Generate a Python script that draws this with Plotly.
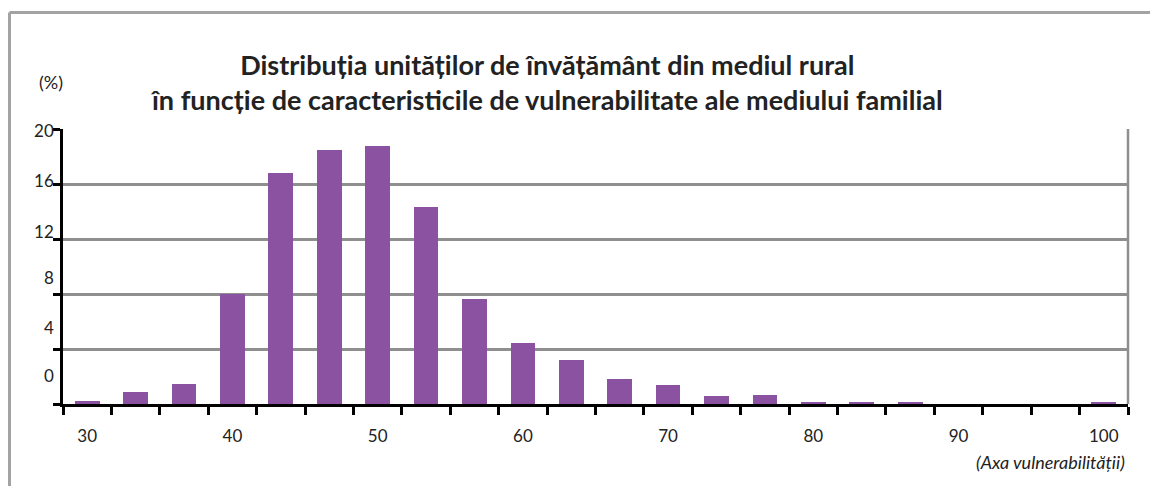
import plotly.graph_objects as go

# ---- data ----
categories = [30, 33.33, 36.67, 40, 43.33, 46.67, 50, 53.33, 56.67, 60, 63.33,
              66.67, 70, 73.33, 76.67, 80, 83.33, 86.67, 90, 93.33, 96.67, 100]
values = [0.2, 0.9, 1.45, 8.0, 16.8, 18.5, 18.75, 14.3, 7.65, 4.45, 3.2,
          1.8, 1.4, 0.55, 0.65, 0.15, 0.15, 0.15, 0.0, 0.0, 0.0, 0.15]
x_tick_vals = [30, 40, 50, 60, 70, 80, 90, 100]
x_tick_text = ["30", "40", "50", "60", "70", "80", "90", "100"]
y_grid_vals = [0, 4, 8, 12, 16, 20]
y_tick_text = ["20", "16", "12", "8", "4", "0"]

title_line1 = "Distribuția unităților de învățământ din mediul rural"
title_line2 = "în funcție de caracteristicile de vulnerabilitate ale mediului familial"
y_unit = "(%)"
x_title = "(Axa vulnerabilității)"

# ---- layout geometry ----
W, H = 1150, 486
ML, MR, MT, MB = 63, 22, 129, 82
PW, PH = W - ML - MR, H - MT - MB


def px_x(x):
    return (x - ML) / PW


def px_y(y):
    return (H - MB - y) / PH


slot = 10 / 3
boundaries = [30 - slot / 2 + k * slot for k in range(len(categories) + 1)]
# label positions in the reference are offset from the gridlines
y_label_pos = [19.83, 16.18, 12.54, 9.16, 5.52, 2.0]

FONT = "Lato"
BAR = "#8a52a0"
GRID = "#8f8f8f"
TXT = "#222222"

fig = go.Figure()
fig.add_trace(go.Bar(x=categories, y=values, width=slot * 0.51,
                     marker=dict(color=BAR, line=dict(width=0)),
                     hoverinfo="x+y"))

fig.update_layout(
    width=W, height=H,
    margin=dict(l=ML, r=MR, t=MT, b=MB),
    paper_bgcolor="white", plot_bgcolor="white",
    showlegend=False,
    font=dict(family=FONT, color=TXT),
    bargap=0,
)

fig.update_xaxes(
    range=[boundaries[0], boundaries[-1]],
    tickmode="array", tickvals=x_tick_vals, ticktext=x_tick_text,
    ticks="", showgrid=False, zeroline=False,
    showline=True, linecolor="black", linewidth=2.5,
    tickfont=dict(family=FONT, size=17, color=TXT),
    ticklabelstandoff=15,
    minor=dict(tickmode="array", tickvals=boundaries, ticks="outside",
               ticklen=8, tickwidth=2.5, tickcolor="black", showgrid=False),
)

fig.update_yaxes(
    range=[0, 20],
    tickmode="array", tickvals=y_label_pos, ticktext=y_tick_text,
    ticks="", showgrid=False, zeroline=False,
    showline=True, linecolor="black", linewidth=2.5,
    tickfont=dict(family=FONT, size=17, color=TXT),
    ticklabelstandoff=3,
    minor=dict(tickmode="array", tickvals=y_grid_vals, ticks="outside",
               ticklen=7, tickwidth=2.5, tickcolor="black",
               showgrid=True, gridcolor=GRID, gridwidth=2.5),
)

# right border of the plot area
fig.add_shape(type="line", xref="paper", yref="paper", x0=1, x1=1, y0=0, y1=1,
              line=dict(color=GRID, width=2.5), layer="above")
# outer frame (top and left)
fig.add_shape(type="line", xref="paper", yref="paper",
              x0=px_x(9.5), x1=px_x(W + 5), y0=px_y(12.5), y1=px_y(12.5),
              line=dict(color="#a3a3a3", width=3))
fig.add_shape(type="line", xref="paper", yref="paper",
              x0=px_x(9.5), x1=px_x(9.5), y0=px_y(12.5), y1=px_y(H + 5),
              line=dict(color="#a3a3a3", width=3))

fig.add_annotation(text="<b>" + title_line1 + "<br>" + title_line2 + "</b>",
                   xref="paper", yref="paper",
                   x=px_x(546), y=px_y(82), xanchor="center", yanchor="middle",
                   showarrow=False, align="center",
                   font=dict(family=FONT, size=27, color=TXT))
fig.add_annotation(text=y_unit, xref="paper", yref="paper",
                   x=px_x(51), y=px_y(82), xanchor="center", yanchor="middle",
                   showarrow=False, font=dict(family=FONT, size=18, color=TXT))
fig.add_annotation(text="<i>" + x_title + "</i>", xref="paper", yref="paper",
                   x=px_x(1127), y=px_y(462), xanchor="right", yanchor="middle",
                   showarrow=False, font=dict(family=FONT, size=18, color=TXT))

fig.write_html("out.html", config={"displayModeBar": False},
               post_script="document.body.style.margin='0px';")
